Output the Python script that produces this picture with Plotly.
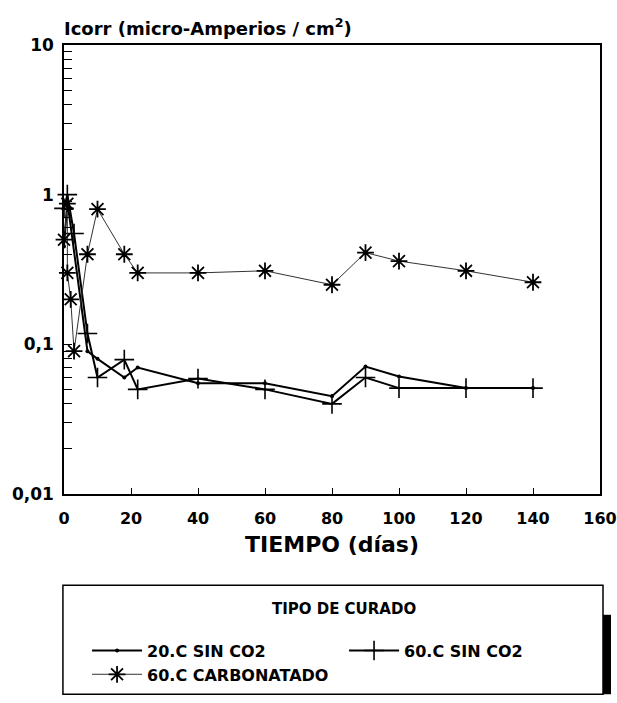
import plotly.graph_objects as go

# ---- data ----
dias_20c = [0, 1, 7, 10, 18, 22, 40, 60, 80, 90, 100, 120, 140]
icorr_20c = [0.45, 0.9, 0.09, 0.08, 0.06, 0.07, 0.055, 0.055, 0.045, 0.071, 0.061, 0.051, 0.051]

dias_60c = [0, 1, 3, 7, 10, 18, 22, 40, 60, 80, 90, 100, 120, 140]
icorr_60c = [0.81, 1.0, 0.55, 0.118, 0.06, 0.079, 0.05, 0.059, 0.05, 0.04, 0.06, 0.051, 0.051, 0.051]

dias_carb = [0, 1, 1, 2, 3, 7, 10, 18, 22, 40, 60, 80, 90, 100, 120, 140]
icorr_carb = [0.5, 0.87, 0.3, 0.2, 0.09, 0.4, 0.8, 0.4, 0.3, 0.3, 0.31, 0.25, 0.41, 0.36, 0.31, 0.26]

x_ticks = [0, 20, 40, 60, 80, 100, 120, 140, 160]
series_names = ["20.C SIN CO2", "60.C SIN CO2", "60.C CARBONATADO"]

FONT = "DejaVu Sans"

fig = go.Figure()
fig.add_trace(go.Scatter(
    x=dias_20c, y=icorr_20c, name=series_names[0], mode="lines+markers",
    line=dict(color="black", width=2),
    marker=dict(symbol="circle", size=4, color="black"),
    cliponaxis=False))
fig.add_trace(go.Scatter(
    x=dias_60c, y=icorr_60c, name=series_names[1], mode="lines+markers",
    line=dict(color="black", width=2),
    marker=dict(symbol="cross-thin", size=14, line=dict(color="black", width=1.6)),
    cliponaxis=False))
fig.add_trace(go.Scatter(
    x=dias_carb, y=icorr_carb, name=series_names[2], mode="lines+markers",
    line=dict(color="#333333", width=1),
    marker=dict(symbol="asterisk", size=14, line=dict(color="black", width=1.8)),
    cliponaxis=False))

fig.update_layout(
    width=617, height=703,
    margin=dict(l=64, r=17, t=45, b=205),
    paper_bgcolor="white", plot_bgcolor="white",
    separators=",.",
    font=dict(family=FONT, color="black", size=15, weight="bold"),
    showlegend=True,
    title=dict(text="Icorr (micro-Amperios / cm<sup>2</sup>)", x=0, xref="paper", xanchor="left",
               y=1, yref="paper", yanchor="bottom", pad=dict(b=10),
               font=dict(family=FONT, size=18, color="black", weight="bold")),
    legend=dict(
        title=dict(text="TIPO DE CURADO<br> ", side="top center",
                   font=dict(family=FONT, size=15, weight="bold")),
        orientation="h", x=0.043, xanchor="left", y=-0.224, yanchor="top",
        xref="paper", yref="paper",
        entrywidth=192, entrywidthmode="pixels", itemwidth=50,
        borderwidth=0, bgcolor="rgba(0,0,0,0)",
        font=dict(family=FONT, size=16, weight="bold"),
        tracegroupgap=0,
    ),
)

fig.update_xaxes(
    range=[0, 160], tickvals=x_ticks, ticks="inside", ticklen=6, tickwidth=1,
    tickcolor="black", showline=True, linecolor="black", linewidth=1.5, mirror=True,
    showgrid=False, zeroline=False, automargin=False, ticklabelstandoff=9,
    tickfont=dict(family=FONT, size=16, weight="bold"),
    title=dict(text="TIEMPO (días)", standoff=10,
               font=dict(family=FONT, size=22, weight="bold")),
)
fig.update_yaxes(
    type="log", range=[-2, 1], dtick=1, ticks="inside", ticklen=8, tickwidth=1,
    tickcolor="black", showline=True, linecolor="black", linewidth=1.5, mirror=True,
    showgrid=False, zeroline=False, automargin=False, ticklabelstandoff=5,
    tickfont=dict(family=FONT, size=17, weight="bold"),
    minor=dict(ticks="inside", ticklen=8, tickcolor="black", dtick="D1", showgrid=False),
)

# legend frame and its shadow bar
fig.add_shape(type="rect", xref="paper", yref="paper",
              x0=-0.002, x1=1.0056, y0=-0.446, y1=-0.203,
              fillcolor="rgba(0,0,0,0)", line=dict(color="black", width=1.5))
fig.add_shape(type="rect", xref="paper", yref="paper",
              x0=1.0056, x1=1.0205, y0=-0.446, y1=-0.269,
              fillcolor="black", line=dict(width=0))

fig.write_html(
    "out.html",
    config={"displayModeBar": False},
    post_script="document.body.style.margin='0';"
                "document.documentElement.style.overflow='hidden';",
)
